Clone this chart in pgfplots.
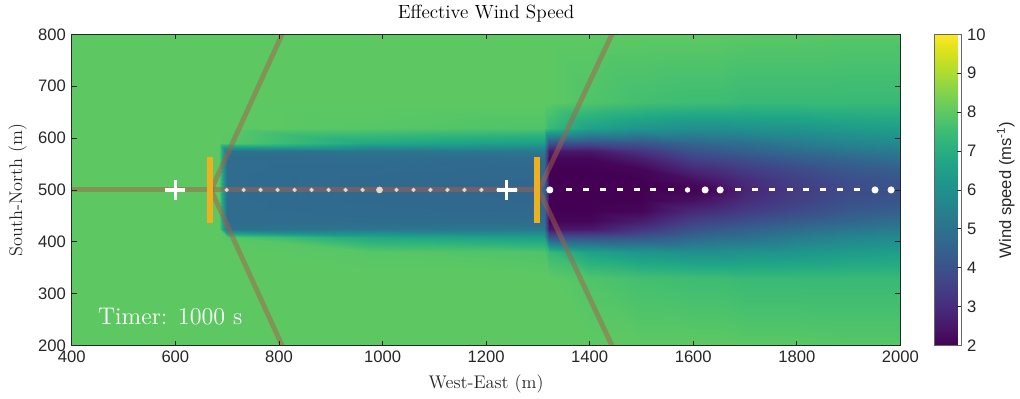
\documentclass[border=0pt]{standalone}
\usepackage{fontspec}
\usepackage{pgfplots}
\pgfplotsset{compat=1.18}
\newfontfamily\arialf{Liberation Sans}
\definecolor{axgray}{RGB}{38,38,38}
\definecolor{lineC}{RGB}{167,96,76}
\definecolor{turb}{RGB}{237,177,32}
\definecolor{dotA}{RGB}{232,214,202}
\begin{document}
\begin{tikzpicture}
\begin{axis}[
  name=main,
  scale only axis, width=498.6pt, height=187.2pt,
  xmin=400, xmax=2000, ymin=200, ymax=800,
  enlargelimits=false, axis on top,
  xtick={400,600,...,2000}, ytick={200,300,...,800},
  tick align=inside, major tick length=3pt,
  axis line style={axgray, line width=0.5pt},
  tick style={axgray, line width=0.5pt},
  tick label style={font=\arialf\fontsize{10}{12}\selectfont, text=axgray},
  /pgf/number format/assume math mode=true,
  /pgf/number format/1000 sep={},
  title={Effective Wind Speed},
  title style={font=\fontsize{11.5}{14}\selectfont, yshift=-2.5pt},
  xlabel={West-East (m)}, ylabel={South-North (m)},
  label style={font=\fontsize{11}{13}\selectfont, text=axgray},
  colormap/viridis, point meta min=2, point meta max=10,
  colorbar right,
  colorbar shift/.style={xshift=20.4pt},
  colorbar style={
    at={(parent axis.north east)}, anchor=north west,
    width=16.2pt,
    ytick={2,3,...,10},
    ytick pos=right, yticklabel pos=right,
    tick align=inside, major tick length=2.5pt,
    axis line style={gray!80!black, line width=0.5pt},
    tick style={axgray, line width=0.5pt},
    tick label style={font=\arialf\fontsize{10}{12}\selectfont, text=axgray},
    /pgf/number format/assume math mode=true,
    ylabel={Wind speed (ms\textsuperscript{-1})},
    ylabel style={font=\arialf\fontsize{10}{12}\selectfont, text=axgray},
  },
]
\addplot[surf, shader=interp, mesh/ordering=y varies, empty line=scanline, point meta=explicit]
table[x=x, y=y, meta=z] {
x y z
400 200 8
400 330 8
400 380 8
400 410 8
400 425 8
400 440 8
400 460 8
400 480 8
400 500 8
400 520 8
400 540 8
400 560 8
400 575 8
400 590 8
400 620 8
400 670 8
400 800 8

685 200 8
685 330 8
685 380 8
685 410 8
685 425 8
685 440 8
685 460 8
685 480 8
685 500 8
685 520 8
685 540 8
685 560 8
685 575 8
685 590 8
685 620 8
685 670 8
685 800 8

700 200 8
700 330 8
700 380 8
700 410 7.9
700 425 5.0
700 440 4.8
700 460 4.8
700 480 4.8
700 500 4.8
700 520 4.8
700 540 4.8
700 560 4.8
700 575 5.0
700 590 7.9
700 620 8
700 670 8
700 800 8

980 200 8
980 330 8
980 380 7.9
980 410 6.8
980 425 5.1
980 440 4.8
980 460 4.75
980 480 4.7
980 500 4.7
980 520 4.7
980 540 4.75
980 560 4.8
980 575 5.1
980 590 6.8
980 620 7.9
980 670 8
980 800 8

1290 200 8
1290 330 8
1290 380 7.8
1290 410 6.5
1290 425 5.2
1290 440 4.8
1290 460 4.7
1290 480 4.65
1290 500 4.6
1290 520 4.65
1290 540 4.7
1290 560 4.8
1290 575 5.2
1290 590 6.5
1290 620 7.8
1290 670 8
1290 800 8

1312 200 8
1312 330 8
1312 380 7.8
1312 410 6.5
1312 425 5.2
1312 440 4.8
1312 460 4.7
1312 480 4.65
1312 500 4.6
1312 520 4.65
1312 540 4.7
1312 560 4.8
1312 575 5.2
1312 590 6.5
1312 620 7.8
1312 670 8
1312 800 8

1322 200 8
1322 330 8
1322 380 7.4
1322 410 4.0
1322 425 2.5
1322 440 2.1
1322 460 2.0
1322 480 2.0
1322 500 2.0
1322 520 2.0
1322 540 2.0
1322 560 2.1
1322 575 2.5
1322 590 4.0
1322 620 7.4
1322 670 8
1322 800 8

1400 200 8
1400 330 7.8
1400 380 6.6
1400 410 3.9
1400 425 2.5
1400 440 2.1
1400 460 2.0
1400 480 2.0
1400 500 2.0
1400 520 2.0
1400 540 2.0
1400 560 2.1
1400 575 2.5
1400 590 3.9
1400 620 6.6
1400 670 7.8
1400 800 8

1500 200 8
1500 330 7.6
1500 380 6.2
1500 410 4.1
1500 425 3.2
1500 440 2.6
1500 460 2.1
1500 480 2.0
1500 500 2.0
1500 520 2.0
1500 540 2.1
1500 560 2.6
1500 575 3.2
1500 590 4.1
1500 620 6.2
1500 670 7.6
1500 800 8

1600 200 8
1600 330 7.5
1600 380 6.0
1600 410 4.6
1600 425 4.0
1600 440 3.5
1600 460 2.9
1600 480 2.3
1600 500 2.0
1600 520 2.3
1600 540 2.9
1600 560 3.5
1600 575 4.0
1600 590 4.6
1600 620 6.0
1600 670 7.5
1600 800 8

1650 200 8
1650 330 7.5
1650 380 6.0
1650 410 4.8
1650 425 4.2
1650 440 3.7
1650 460 3.1
1650 480 2.6
1650 500 2.2
1650 520 2.6
1650 540 3.1
1650 560 3.7
1650 575 4.2
1650 590 4.8
1650 620 6.0
1650 670 7.5
1650 800 8

1700 200 7.95
1700 330 7.4
1700 380 6.1
1700 410 4.9
1700 425 4.4
1700 440 3.9
1700 460 3.4
1700 480 3.0
1700 500 2.8
1700 520 3.0
1700 540 3.4
1700 560 3.9
1700 575 4.4
1700 590 4.9
1700 620 6.1
1700 670 7.4
1700 800 7.95

1800 200 7.95
1800 330 7.4
1800 380 6.2
1800 410 5.3
1800 425 4.8
1800 440 4.3
1800 460 3.8
1800 480 3.5
1800 500 3.4
1800 520 3.5
1800 540 3.8
1800 560 4.3
1800 575 4.8
1800 590 5.3
1800 620 6.2
1800 670 7.4
1800 800 7.95

1900 200 7.9
1900 330 7.4
1900 380 6.4
1900 410 5.6
1900 425 5.1
1900 440 4.6
1900 460 4.2
1900 480 3.9
1900 500 3.8
1900 520 3.9
1900 540 4.2
1900 560 4.6
1900 575 5.1
1900 590 5.6
1900 620 6.4
1900 670 7.4
1900 800 7.9

2000 200 7.9
2000 330 7.4
2000 380 6.5
2000 410 5.8
2000 425 5.3
2000 440 4.9
2000 460 4.4
2000 480 4.1
2000 500 4.0
2000 520 4.1
2000 540 4.4
2000 560 4.9
2000 575 5.3
2000 590 5.8
2000 620 6.5
2000 670 7.4
2000 800 7.9
};
% guide lines
\addplot[draw=lineC, draw opacity=0.5, line width=3pt] coordinates {(400,500) (1300,500)};
\addplot[draw=lineC, draw opacity=0.5, line width=3pt] coordinates {(806,800) (669,500) (806,200)};
\addplot[draw=lineC, draw opacity=0.5, line width=3pt] coordinates {(1443,800) (1302,500) (1443,200)};
% wake 1 particles
\addplot[only marks, mark=*, mark size=1.1pt, color=dotA] coordinates {
(699,500) (731.8,500) (764.6,500) (797.4,500) (830.2,500) (863,500) (895.8,500)
(928.6,500) (961.4,500) (1027,500) (1059.8,500) (1092.6,500) (1125.4,500)
(1158.2,500) (1191,500) (1223.8,500) (1256.6,500)};
\addplot[only marks, mark=*, mark size=1.8pt, color=dotA] coordinates {(994.2,500)};
% wake 2 particles
\addplot[only marks, mark=-, mark size=1.8pt, white, mark options={line width=1.8pt}] coordinates {
(1360,500) (1393,500) (1426,500) (1459,500) (1491,500) (1523,500) (1557,500)
(1686,500) (1720,500) (1753,500) (1786,500) (1818,500) (1851,500) (1884,500) (1916,500)};
\addplot[only marks, mark=*, mark size=1.9pt, white] coordinates {
(1323,500) (1623,500) (1652,500) (1951,500) (1982,500)};
\addplot[only marks, mark=*, mark size=1.4pt, white] coordinates {(1589,500)};
% turbines
\addplot[draw=turb, line width=3.6pt] coordinates {(666,437) (666,563)};
\addplot[draw=turb, line width=3.6pt] coordinates {(1298,437) (1298,563)};
% crosses
\addplot[only marks, mark=+, mark size=6pt, white, mark options={line width=2pt}] coordinates {(600,500) (1240,500)};
\node[anchor=base west, text=white, font=\fontsize{14.5}{17}\selectfont, inner sep=0pt] at (axis cs:450,240) {Timer: 1000 s};
\end{axis}
\path ([shift={(-43.2pt,-31.8pt)}]main.south west) rectangle ([shift={(70.2pt,20.4pt)}]main.north east);
\end{tikzpicture}
\end{document}
